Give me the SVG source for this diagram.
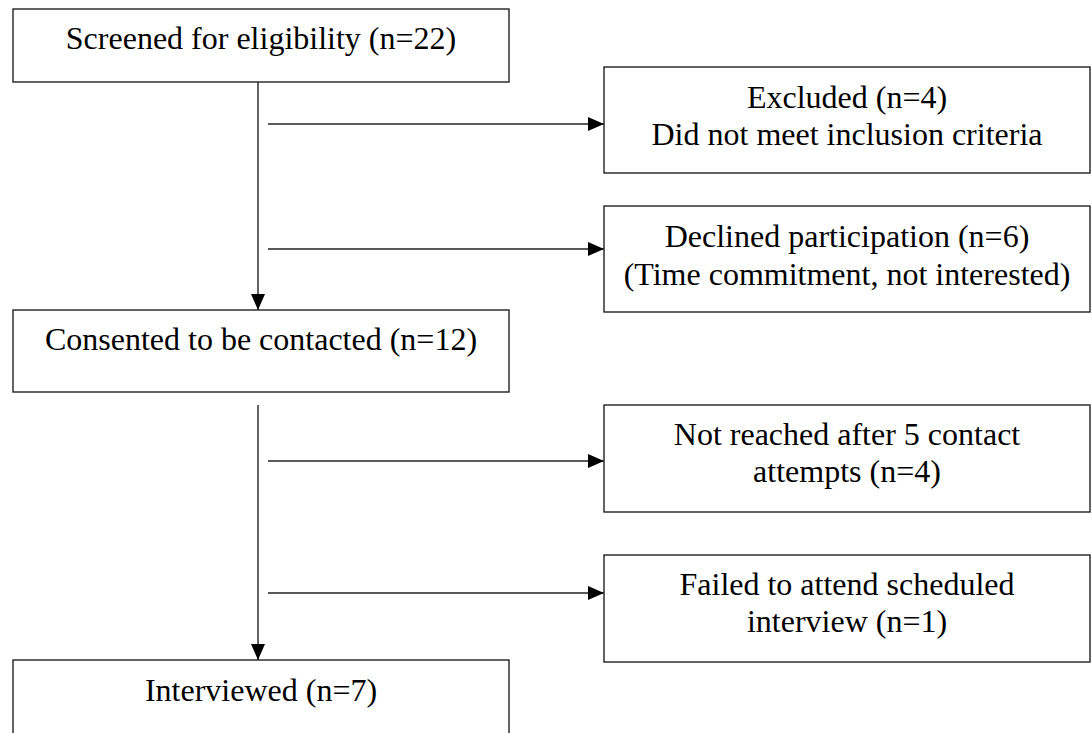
<svg xmlns="http://www.w3.org/2000/svg" width="1092" height="733" viewBox="0 0 1092 733">
<style>
.box{fill:#fff;stroke:#222;stroke-width:1.4}
.t{font-family:"Liberation Serif","Times New Roman",serif;font-size:32px;fill:#000;text-anchor:middle}
.c{stroke:#222;stroke-width:1.4;fill:none;marker-end:url(#ah)}
</style>
<defs>
<marker id="ah" markerUnits="userSpaceOnUse" markerWidth="16" markerHeight="16" viewBox="0 0 16 16" refX="16" refY="8" orient="auto">
<path d="M0,1 L16,8 L0,15 Z" fill="#000"/>
</marker>
</defs>
<rect width="1092" height="733" fill="#fff"/>
<g id="screened">
<rect class="box" x="13" y="9" width="496" height="73"/>
<text class="t" x="261" y="49">Screened for eligibility (n=22)</text>
</g>
<g id="excluded">
<rect class="box" x="604" y="67" width="486" height="106"/>
<text class="t" x="847" y="108">Excluded (n=4)</text>
<text class="t" x="847" y="145">Did not meet inclusion criteria</text>
</g>
<g id="declined">
<rect class="box" x="604" y="206" width="486" height="106"/>
<text class="t" x="847" y="247">Declined participation (n=6)</text>
<text class="t" x="847" y="285">(Time commitment, not interested)</text>
</g>
<g id="consented">
<rect class="box" x="13" y="310" width="496" height="82"/>
<text class="t" x="261" y="350">Consented to be contacted (n=12)</text>
</g>
<g id="notreached">
<rect class="box" x="604" y="405" width="486" height="107"/>
<text class="t" x="847" y="445">Not reached after 5 contact</text>
<text class="t" x="847" y="482">attempts (n=4)</text>
</g>
<g id="failed">
<rect class="box" x="604" y="555" width="486" height="107"/>
<text class="t" x="847" y="595">Failed to attend scheduled</text>
<text class="t" x="847" y="632">interview (n=1)</text>
</g>
<g id="interviewed">
<rect class="box" x="13" y="660" width="496" height="90"/>
<text class="t" x="261" y="701">Interviewed (n=7)</text>
</g>
<g id="connectors">
<line class="c" x1="258" y1="82" x2="258" y2="310"/>
<line class="c" x1="268" y1="124" x2="604" y2="124"/>
<line class="c" x1="268" y1="249" x2="604" y2="249"/>
<line class="c" x1="258" y1="405" x2="258" y2="660"/>
<line class="c" x1="268" y1="461" x2="604" y2="461"/>
<line class="c" x1="268" y1="593" x2="604" y2="593"/>
</g>
</svg>
